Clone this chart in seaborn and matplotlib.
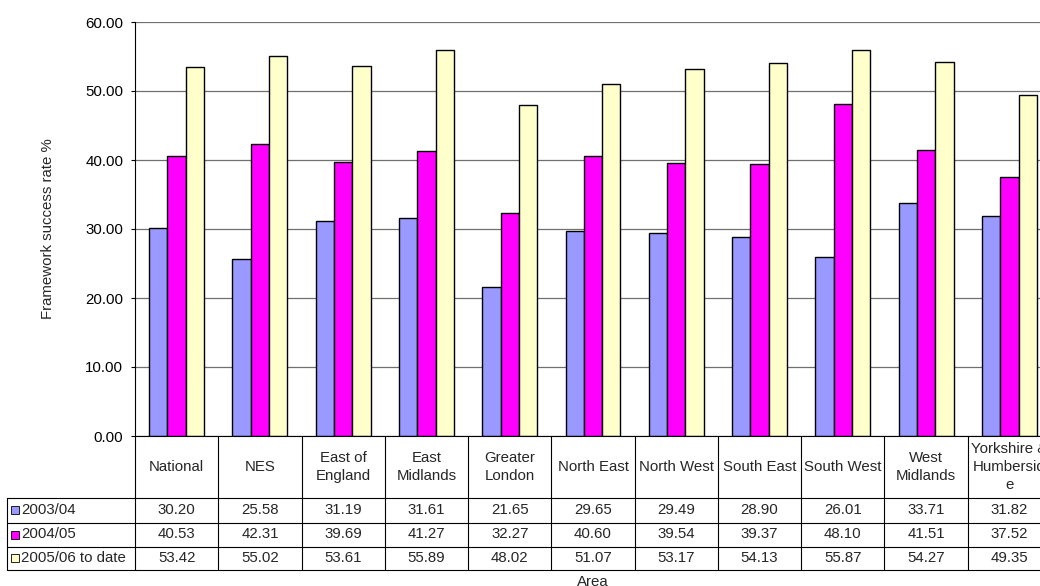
import matplotlib
matplotlib.use('Agg')
import matplotlib.pyplot as plt
import matplotlib.transforms as mtransforms
from matplotlib.lines import Line2D
from matplotlib.patches import Rectangle
import pandas as pd
import seaborn as sns

AREAS = ['National', 'NES', 'East of England', 'East Midlands', 'Greater London',
         'North East', 'North West', 'South East', 'South West', 'West Midlands',
         'Yorkshire & Humberside']
AREA_LABELS = ['National', 'NES', 'East of\nEngland', 'East\nMidlands', 'Greater\nLondon',
               'North East', 'North West', 'South East', 'South West', 'West\nMidlands',
               'Yorkshire &\nHumbersid\ne']
PERIODS = ['2003/04', '2004/05', '2005/06 to date']
RATE_2003_04 = [30.20, 25.58, 31.19, 31.61, 21.65, 29.65, 29.49, 28.90, 26.01, 33.71, 31.82]
RATE_2004_05 = [40.53, 42.31, 39.69, 41.27, 32.27, 40.60, 39.54, 39.37, 48.10, 41.51, 37.52]
RATE_2005_06 = [53.42, 55.02, 53.61, 55.89, 48.02, 51.07, 53.17, 54.13, 55.87, 54.27, 49.35]
COLORS = ['#9999FF', '#FF00FF', '#FFFFCC']

W, H = 1040, 586
FS = 10.8

series = [RATE_2003_04, RATE_2004_05, RATE_2005_06]
df = pd.DataFrame([(area, period, vals[i])
                   for period, vals in zip(PERIODS, series)
                   for i, area in enumerate(AREAS)],
                  columns=['Area', 'Period', 'Rate'])

sns.set_theme(style='white')
plt.rcParams['font.family'] = ['Liberation Sans', 'DejaVu Sans']


def fx(px):
    return px / W


def fy(py):
    return 1 - py / H


fig = plt.figure(figsize=(W / 100, H / 100), dpi=100)
ax = fig.add_axes([fx(135), fy(436), (1051 - 135) / W, (436 - 22) / H])

sns.barplot(data=df, x='Area', y='Rate', hue='Period', order=AREAS, hue_order=PERIODS,
            palette=COLORS, saturation=1, width=0.66, edgecolor='black', linewidth=1,
            legend=False, ax=ax)

ax.set_xlim(-0.5, len(AREAS) - 0.5)
ax.set_ylim(0, 60)
ax.set_yticks(range(0, 61, 10))
ax.set_yticklabels([f'{v:.2f}' for v in range(0, 61, 10)], fontsize=FS)
ax.yaxis.grid(True, color='#707070', linewidth=0.9)
ax.set_axisbelow(True)
ax.tick_params(axis='y', direction='out', length=3, width=0.8, pad=5.5, left=True, colors='black')
ax.tick_params(axis='x', bottom=False, labelbottom=False)
ax.set_xlabel('')
ax.set_ylabel('Framework success rate %', fontsize=FS)
ax.yaxis.set_label_coords((55 - 135) / (1051 - 135), 0.5)
for side in ['top', 'right']:
    ax.spines[side].set_visible(False)
for side in ['left', 'bottom']:
    ax.spines[side].set_color('black')
    ax.spines[side].set_linewidth(0.8)

# data table under the chart
trans = mtransforms.blended_transform_factory(ax.transData, fig.transFigure)
row_edges = [498, 522.5, 546.5, 570]
lw = 0.8
for i in range(len(AREAS) + 1):
    fig.add_artist(Line2D([i - 0.5, i - 0.5], [fy(436), fy(570)], transform=trans,
                          color='black', linewidth=lw))
for py in row_edges:
    fig.add_artist(Line2D([fx(7), fx(W + 20)], [fy(py), fy(py)], transform=fig.transFigure,
                          color='black', linewidth=lw))
fig.add_artist(Line2D([fx(7), fx(7)], [fy(498), fy(570)], transform=fig.transFigure,
                      color='black', linewidth=lw))

for i, label in enumerate(AREA_LABELS):
    fig.text(i, fy(467), label, transform=trans, ha='center', va='center',
             fontsize=FS, linespacing=1.4)

for r, (period, vals, color) in enumerate(zip(PERIODS, series, COLORS)):
    yc = (row_edges[r] + row_edges[r + 1]) / 2
    fig.add_artist(Rectangle((fx(11), fy(yc + 4)), 8 / W, 8 / H, transform=fig.transFigure,
                             facecolor=color, edgecolor='black', linewidth=0.6))
    fig.text(fx(21), fy(yc), period, ha='left', va='center', fontsize=FS)
    for i, v in enumerate(vals):
        fig.text(i, fy(yc), f'{v:.2f}', transform=trans, ha='center', va='center', fontsize=FS)

fig.text(0.5, fy(582), 'Area', transform=mtransforms.blended_transform_factory(ax.transAxes, fig.transFigure),
         ha='center', va='center', fontsize=FS)

fig.savefig('out.png', dpi=100)
